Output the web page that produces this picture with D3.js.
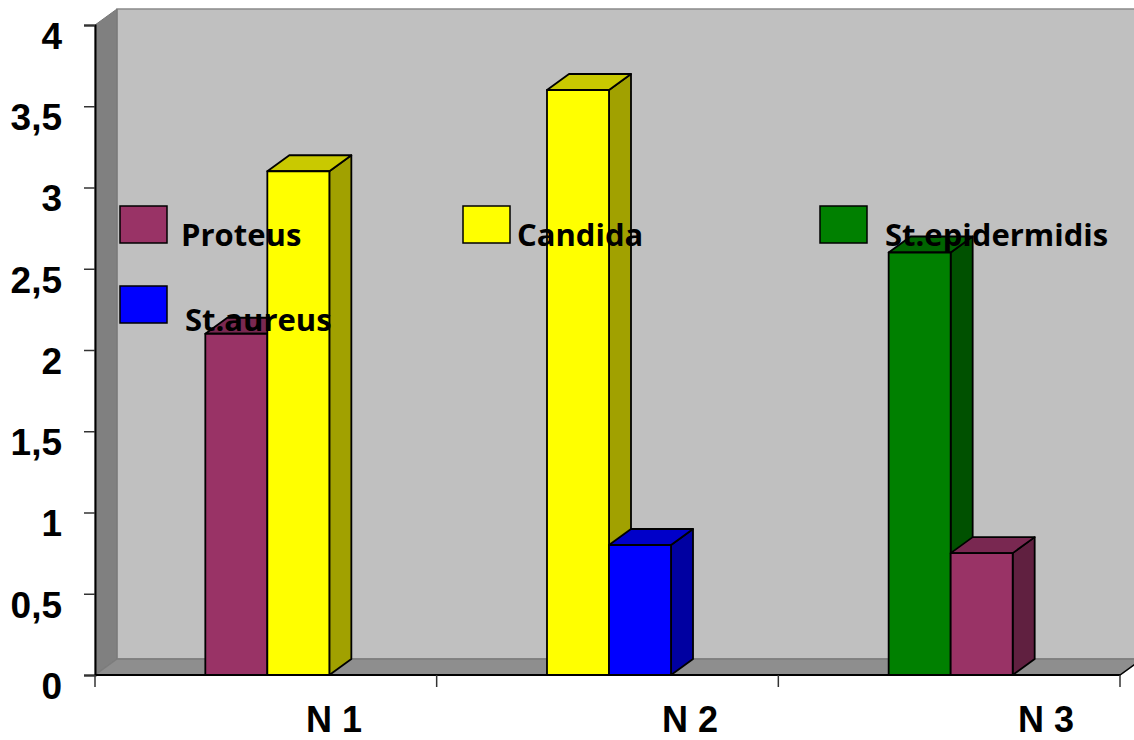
<!DOCTYPE html>
<html>
<head>
<meta charset="utf-8">
<script src="https://cdn.jsdelivr.net/npm/d3@7"></script>
<style>
  html, body { margin: 0; padding: 0; background: #ffffff; }
  svg { display: block; }
</style>
</head>
<body>
<svg id="chart" width="1134" height="740"></svg>
<script>
// Sample groups and the two bars drawn in each group
const categories = ["N 1", "N 2", "N 3"];
const firstSpecies = ["Proteus", "Candida", "St.epidermidis"];
const firstValues = [2.1, 3.6, 2.6];
const secondSpecies = ["Candida", "St.aureus", "Proteus"];
const secondValues = [3.1, 0.8, 0.75];

// Legend entries and colours
const legendNames = ["Proteus", "Candida", "St.epidermidis", "St.aureus"];
const legendColors = ["#993366", "#ffff00", "#008000", "#0000ff"];

// Value axis ticks
const yTicks = [0, 0.5, 1, 1.5, 2, 2.5, 3, 3.5, 4];

const svg = d3.select("#chart");
const W = 1134, H = 740;

// 3D depth of walls and bars
const DX = 22, DY = 16;
const left = 95, right = 1120, y0px = 675, y4px = 25;

const x = d3.scaleBand().domain(categories).range([left, right]).padding(0);
const y = d3.scaleLinear().domain([0, 4]).range([y0px, y4px]);
const labelX = d3.scalePoint().domain(categories).range([334, 1046]);

const color = d3.scaleOrdinal().domain(legendNames).range(legendColors);
const fmt = d3.formatLocale({ decimal: ",", thousands: " ", grouping: [3], currency: ["", ""] }).format("~g");

// Walls and floor
const g = svg.append("g");
// back wall
g.append("rect")
  .attr("x", left + DX).attr("y", y(4) - DY)
  .attr("width", W - left - DX + 10).attr("height", y(0) - y(4))
  .attr("fill", "#c0c0c0").attr("stroke", "#8a8a8a").attr("stroke-width", 1.5);
// side wall
g.append("path")
  .attr("d", d3.line()([[left, y(4)], [left + DX, y(4) - DY], [left + DX, y(0) - DY], [left, y(0)]]) + "Z")
  .attr("fill", "#808080").attr("stroke", "#777").attr("stroke-width", 1);
// floor
g.append("path")
  .attr("d", d3.line()([[left, y(0)], [left + DX, y(0) - DY], [right + DX, y(0) - DY], [right, y(0)]]) + "Z")
  .attr("fill", "#8e8e8e").attr("stroke", "#7c7c7c").attr("stroke-width", 1.5);

// Bars
const inner = d3.scaleBand().domain([0, 1]).range([0, x.bandwidth() * 0.363]);
const barW = inner.bandwidth();
const bars = [];
categories.forEach((c, i) => {
  bars.push({ cat: c, slot: 0, species: firstSpecies[i], value: firstValues[i] });
  bars.push({ cat: c, slot: 1, species: secondSpecies[i], value: secondValues[i] });
});

function shade(col, k) {
  const c = d3.rgb(col);
  return d3.rgb(c.r * k, c.g * k, c.b * k).formatHex();
}

const barG = svg.append("g");
bars.forEach(b => {
  const cx = x(b.cat) + x.bandwidth() / 2 + 1.5;
  const bx = cx - inner.range()[1] / 2 + inner(b.slot);
  const top = y(b.value), bottom = y(0);
  const fill = color(b.species);
  const bg = barG.append("g")
    .attr("stroke", "#000").attr("stroke-width", 1.8).attr("stroke-linejoin", "round");
  bg.append("path")
    .attr("d", d3.line()([[bx + barW, top], [bx + barW + DX, top - DY], [bx + barW + DX, bottom - DY], [bx + barW, bottom]]) + "Z")
    .attr("fill", shade(fill, 0.63));
  bg.append("path")
    .attr("d", d3.line()([[bx, top], [bx + DX, top - DY], [bx + barW + DX, top - DY], [bx + barW, top]]) + "Z")
    .attr("fill", shade(fill, 0.79));
  bg.append("rect")
    .attr("x", bx).attr("y", top).attr("width", barW).attr("height", bottom - top)
    .attr("fill", fill);
});

// Value axis
const yAxis = d3.axisLeft(y).tickValues(yTicks).tickSize(11).tickPadding(22)
  .tickFormat(d => fmt(d));
const ya = svg.append("g").attr("transform", `translate(${left},0)`).call(yAxis);
ya.select(".domain").attr("stroke", "#000").attr("stroke-width", 2);
ya.selectAll(".tick line").attr("stroke", "#333").attr("stroke-width", 1.5);
ya.selectAll(".tick text")
  .attr("dy", "0.63em")
  .attr("fill", "#000")
  .style("font-family", "'Liberation Sans', Arial, sans-serif")
  .style("font-weight", "bold")
  .style("font-size", "37px");

// Category axis: baseline, tick marks at group boundaries, labels
const xa = svg.append("g");
xa.append("line")
  .attr("x1", left).attr("x2", right).attr("y1", y(0)).attr("y2", y(0))
  .attr("stroke", "#000").attr("stroke-width", 2);
const bounds = categories.map(c => x(c)).concat([x.range()[1]]);
xa.selectAll("line.tk").data(bounds).join("line").attr("class", "tk")
  .attr("x1", d => d).attr("x2", d => d)
  .attr("y1", y(0)).attr("y2", y(0) + 12)
  .attr("stroke", "#333").attr("stroke-width", 1.5);
xa.append("path")
  .attr("d", d3.line()([[right, y(0)], [right + DX, y(0) - DY]]))
  .attr("stroke", "#000").attr("stroke-width", 1.5);
xa.selectAll("text").data(categories).join("text")
  .attr("x", d => labelX(d)).attr("y", 732)
  .attr("text-anchor", "middle")
  .style("font-family", "'Liberation Sans', Arial, sans-serif")
  .style("font-weight", "bold")
  .style("font-size", "36px")
  .text(d => d);

// Legend laid over the plot
const legendCols = [120, 463, 820];
const legendTextX = [181, 517, 885];
const legendRows = [206, 286];
const lg = svg.append("g");
legendNames.forEach((name, i) => {
  const col = i % 3, row = Math.floor(i / 3);
  lg.append("rect")
    .attr("x", legendCols[col]).attr("y", legendRows[row])
    .attr("width", 47).attr("height", 37)
    .attr("fill", color(name)).attr("stroke", "#000").attr("stroke-width", 1.5);
  lg.append("text")
    .attr("x", legendTextX[col] + (row ? 4 : 0))
    .attr("y", legendRows[row] + 40 + row * 5)
    .style("font-family", "'Open Sans', sans-serif")
    .style("font-weight", "bold")
    .style("font-size", "31px")
    .attr("fill", "#000")
    .text(name);
});
</script>
</body>
</html>
